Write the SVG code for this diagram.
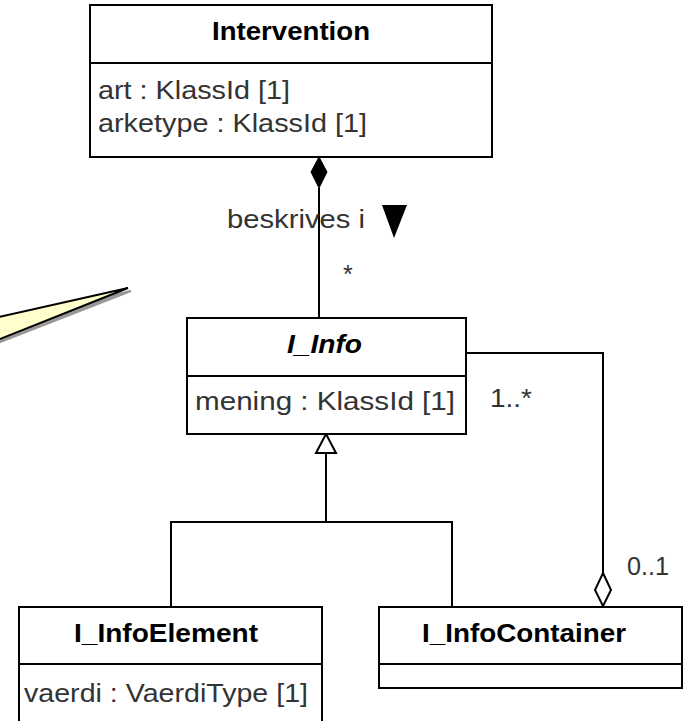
<svg xmlns="http://www.w3.org/2000/svg" width="686" height="721" viewBox="0 0 686 721">
<style>
.box{fill:#fff;stroke:#000;stroke-width:2}
.ln{fill:none;stroke:#000;stroke-width:2}
.t{font-family:"Liberation Sans",Arial,sans-serif;font-size:25px;fill:#333}
.b{font-family:"Liberation Sans",Arial,sans-serif;font-size:26px;font-weight:bold;fill:#000}
</style>
<rect width="686" height="721" fill="#fff"/>
<g id="callout">
<polygon points="-10,322 131,291 -10,346" fill="#999" stroke="#999" stroke-width="2"/>
<polygon points="-10,319 128,288 -10,343" fill="#ffffcc" stroke="#000" stroke-width="2"/>
</g>
<g id="connectors">
<line class="ln" x1="319" y1="188" x2="319" y2="318"/>
<polygon points="319,157 327,172 319,188 311,172" fill="#000" stroke="#000" stroke-width="1"/>
<polyline class="ln" points="326,453 326,522"/>
<polyline class="ln" points="171,607 171,522 452,522 452,607"/>
<polygon points="326,434 336,453 316,453" fill="#fff" stroke="#000" stroke-width="2"/>
<polyline class="ln" points="466,353 603,353 603,573"/>
<polygon points="603,573 611,590 603,606 595,590" fill="#fff" stroke="#000" stroke-width="2"/>
<text class="t" x="227" y="228" textLength="138" lengthAdjust="spacingAndGlyphs">beskrives i</text>
<polygon points="382,205 407,205 394,238" fill="#000"/>
<text class="t" x="343" y="283">*</text>
<text class="t" x="490" y="407" textLength="42" lengthAdjust="spacingAndGlyphs">1..*</text>
<text class="t" x="627" y="575" textLength="42" lengthAdjust="spacingAndGlyphs">0..1</text>
</g>
<g id="Intervention">
<rect class="box" x="90" y="5" width="402" height="152"/>
<line class="ln" x1="90" y1="63" x2="492" y2="63"/>
<text class="b" x="212" y="40" textLength="158" lengthAdjust="spacingAndGlyphs">Intervention</text>
<text class="t" x="98" y="99" textLength="192" lengthAdjust="spacingAndGlyphs">art : KlassId [1]</text>
<text class="t" x="98" y="132" textLength="269" lengthAdjust="spacingAndGlyphs">arketype : KlassId [1]</text>
</g>
<g id="I_Info">
<rect class="box" x="187" y="318" width="279" height="116"/>
<line class="ln" x1="187" y1="376" x2="466" y2="376"/>
<text class="b" x="287" y="353" font-style="italic" textLength="75" lengthAdjust="spacingAndGlyphs">I_Info</text>
<text class="t" x="195" y="410" textLength="260" lengthAdjust="spacingAndGlyphs">mening : KlassId [1]</text>
</g>
<g id="I_InfoElement">
<rect class="box" x="19" y="607" width="303" height="130"/>
<line class="ln" x1="19" y1="664" x2="322" y2="664"/>
<text class="b" x="74" y="642" textLength="184" lengthAdjust="spacingAndGlyphs">I_InfoElement</text>
<text class="t" x="24" y="702" textLength="284" lengthAdjust="spacingAndGlyphs">vaerdi : VaerdiType [1]</text>
</g>
<g id="I_InfoContainer">
<rect class="box" x="379" y="607" width="303" height="81"/>
<line class="ln" x1="379" y1="664" x2="682" y2="664"/>
<text class="b" x="422" y="642" textLength="204" lengthAdjust="spacingAndGlyphs">I_InfoContainer</text>
</g>
</svg>
